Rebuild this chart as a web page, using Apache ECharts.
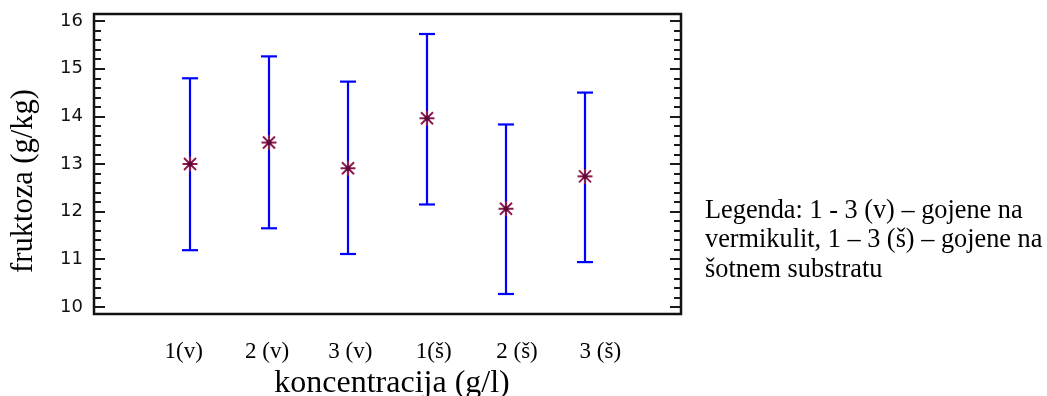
<!DOCTYPE html>
<html>
<head>
<meta charset="utf-8">
<script src="https://cdn.jsdelivr.net/npm/echarts@6/dist/echarts.min.js"></script>
<style>
  html, body { margin: 0; padding: 0; background: #ffffff; }
  #chart { width: 1047px; height: 396px; }
</style>
</head>
<body>
<div id="chart"></div>
<script>
// ---- data ----
const categories = ['1(v)', '2 (v)', '3 (v)', '1(š)', '2 (š)', '3 (š)'];
const means = [13.00, 13.45, 12.91, 13.96, 12.06, 12.74];
const upper = [14.80, 15.26, 14.73, 15.73, 13.83, 14.50];
const lower = [11.19, 11.65, 11.11, 12.15, 10.27, 10.94];
const yMajorTicks = [10, 11, 12, 13, 14, 15, 16];
const yMinorTicks = [];
for (let i = 10; i < 16; i++) {
  for (let k = 1; k < 5; k++) yMinorTicks.push(+(i + k * 0.2).toFixed(1));
}
const yMin = 9.85, yMax = 16.15;
const xTitle = 'koncentracija (g/l)';
const yTitle = 'fruktoza (g/kg)';
const legendLines = ['Legenda: 1 - 3 (v) – gojene na', 'vermikulit, 1 – 3 (š) – gojene na', 'šotnem substratu'];

const chart = echarts.init(document.getElementById('chart'));
const W = 1047, H = 396;
const frame = { left: 94, right: W - 681, top: 14, bottom: H - 314 };
const tickColor = '#1a1a1a';

function yTickAxis(pos, values, len, showLabel) {
  return {
    gridIndex: 0, type: 'value', position: pos, min: yMin, max: yMax,
    axisLine: { show: false }, splitLine: { show: false },
    axisTick: { show: true, inside: true, length: len, customValues: values,
                lineStyle: { color: tickColor, width: 2 } },
    axisLabel: showLabel ? { show: true, customValues: values, margin: 11,
                fontFamily: 'DejaVu Sans', fontSize: 18, color: '#111' } : { show: false }
  };
}

const option = {
  backgroundColor: '#ffffff',
  animation: false,
  grid: [
    Object.assign({ show: true, borderColor: '#111', borderWidth: 2.5, backgroundColor: 'transparent',
                    outerBoundsMode: 'none', containLabel: false }, frame),
    { left: 150.5, right: W - 624.5, top: frame.top, bottom: frame.bottom, outerBoundsMode: 'none', containLabel: false },
    { left: 142, right: W - 642, top: frame.top, bottom: frame.bottom, outerBoundsMode: 'none', containLabel: false }
  ],
  xAxis: [
    { gridIndex: 0, type: 'value', min: 0, max: 1, show: false },
    { gridIndex: 1, type: 'category', data: categories, show: false },
    { gridIndex: 2, type: 'category', data: categories,
      axisLine: { show: false }, axisTick: { show: false }, splitLine: { show: false },
      axisLabel: { margin: 26, fontFamily: 'Liberation Serif', fontSize: 23, color: '#000' },
      name: xTitle, nameLocation: 'middle', nameGap: 48,
      nameTextStyle: { fontFamily: 'Liberation Serif', fontSize: 32, color: '#000' } }
  ],
  yAxis: [
    yTickAxis('left', yMajorTicks, 11, true),
    yTickAxis('left', yMinorTicks, 7, false),
    yTickAxis('right', yMajorTicks, 11, false),
    yTickAxis('right', yMinorTicks, 7, false),
    { gridIndex: 1, type: 'value', min: yMin, max: yMax, show: false },
    { gridIndex: 2, type: 'value', min: yMin, max: yMax, show: false }
  ],
  graphic: [
    { type: 'text', x: 24, y: 181, rotation: Math.PI / 2,
      style: { text: yTitle, fontFamily: 'Liberation Serif', fontSize: 30.5, fill: '#000',
               align: 'center', verticalAlign: 'middle' } },
    { type: 'text', x: 705, y: 196,
      style: { text: legendLines.join('\n'), fontFamily: 'Liberation Serif', fontSize: 26.3,
               lineHeight: 29.5, fill: '#000', align: 'left', verticalAlign: 'top' } }
  ],
  series: [
    {
      type: 'custom', xAxisIndex: 1, yAxisIndex: 4,
      data: categories.map((c, i) => [i, lower[i], upper[i]]),
      renderItem: function (params, api) {
        const i = api.value(0);
        const lo = api.coord([i, api.value(1)]);
        const hi = api.coord([i, api.value(2)]);
        const hw = 8;
        const st = { stroke: '#0000ff', lineWidth: 2.2 };
        return { type: 'group', children: [
          { type: 'line', shape: { x1: hi[0], y1: hi[1], x2: lo[0], y2: lo[1] }, style: st },
          { type: 'line', shape: { x1: hi[0] - hw, y1: hi[1], x2: hi[0] + hw, y2: hi[1] }, style: st },
          { type: 'line', shape: { x1: lo[0] - hw, y1: lo[1], x2: lo[0] + hw, y2: lo[1] }, style: st }
        ] };
      },
      z: 2
    },
    {
      type: 'custom', xAxisIndex: 1, yAxisIndex: 4,
      data: categories.map((c, i) => [i, means[i]]),
      renderItem: function (params, api) {
        const p = api.coord([api.value(0), api.value(1)]);
        const r = 7.5, d = 6;
        const st = { stroke: '#8b1a4f', lineWidth: 2 };
        return { type: 'group', children: [
          { type: 'line', shape: { x1: p[0] - r, y1: p[1], x2: p[0] + r, y2: p[1] }, style: st },
          { type: 'line', shape: { x1: p[0], y1: p[1] - r, x2: p[0], y2: p[1] + r }, style: st },
          { type: 'line', shape: { x1: p[0] - d, y1: p[1] - d, x2: p[0] + d, y2: p[1] + d }, style: st },
          { type: 'line', shape: { x1: p[0] - d, y1: p[1] + d, x2: p[0] + d, y2: p[1] - d }, style: st },
          { type: 'circle', shape: { cx: p[0], cy: p[1], r: 2.5 }, style: { fill: '#5a0a35' } }
        ] };
      },
      z: 3
    }
  ]
};
chart.setOption(option);
</script>
</body>
</html>
